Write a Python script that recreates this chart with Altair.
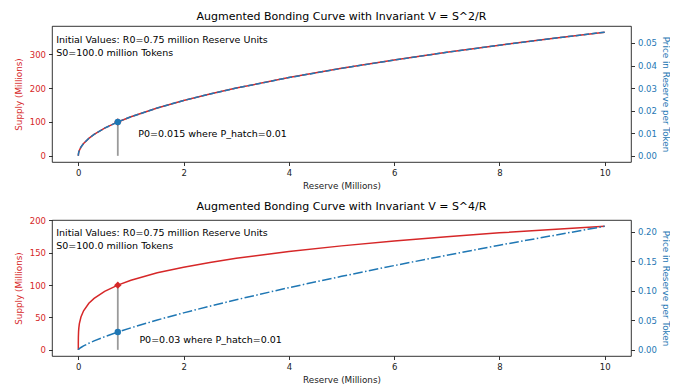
import altair as alt
import pandas as pd

RED = "#d62728"
BLUE = "#1f77b4"

# Reserve values (millions)
R = [0, 0.0001, 0.001, 0.005, 0.01, 0.02, 0.05, 0.1, 0.2, 0.3, 0.5, 0.75, 1, 1.5,
     2, 2.5, 3, 4, 5, 6, 7, 8, 9, 10]

# Top panel: V = S^2/R
S_top = [0, 1.2, 3.7, 8.2, 11.5, 16.3, 25.8, 36.5, 51.6, 63.2, 81.6, 100, 115.5, 141.4,
         163.3, 182.6, 200, 230.9, 258.2, 282.8, 305.5, 326.6, 346.4, 365.1]
P_top = [0, 0.00017, 0.00055, 0.00122, 0.00173, 0.00245, 0.00387, 0.00548, 0.00775,
         0.00949, 0.01225, 0.015, 0.01732, 0.02121, 0.02449, 0.02739, 0.03, 0.03464,
         0.03873, 0.04243, 0.04583, 0.04899, 0.05196, 0.05477]

# Bottom panel: V = S^4/R
S_bot = [0, 10.7, 19.1, 28.6, 34.0, 40.4, 50.8, 60.4, 71.9, 79.5, 90.4, 100, 107.5, 119.0,
         127.8, 135.1, 141.4, 152.0, 160.7, 168.2, 174.8, 180.8, 186.1, 191.1]
P_bot = [0, 0.00004, 0.00021, 0.0007, 0.00118, 0.00198, 0.00393, 0.00661, 0.01115,
         0.01507, 0.02216, 0.03, 0.03727, 0.05055, 0.06262, 0.07398, 0.08482, 0.10536,
         0.1245, 0.14277, 0.16023, 0.1773, 0.19336, 0.20937]

R0 = 0.75
S0 = 100.0
P0_top = 0.015
P0_bot = 0.03

x_ticks = [0, 2, 4, 6, 8, 10]
info_text = "Initial Values: R0=0.75 million Reserve Units\nS0=100.0 million Tokens"


def panel(S, P, title, ydom, ytick, pdom, ptick, p0, p0_text, info_y, p0_pos, dash):
    df = pd.DataFrame({"R": R, "S": S, "P": P})
    pt = pd.DataFrame({"R": [R0], "S": [S0], "P": [p0], "base": [0.0]})
    txt = pd.DataFrame({"R": [-0.42, p0_pos[0]], "S": [info_y, p0_pos[1]],
                        "label": [info_text, p0_text],
                        "kind": ["info", "p0"]})

    x = alt.X("R:Q", scale=alt.Scale(domain=[-0.5, 10.5], nice=False, zero=False),
              axis=alt.Axis(values=x_ticks, format="d", title="Reserve (Millions)"))
    ys = alt.Scale(domain=ydom, nice=False, zero=False)
    yaxis = alt.Axis(values=ytick, format="d", title="Supply (Millions)",
                     labelColor=RED, titleColor=RED, orient="left", titlePadding=6)
    ps = alt.Scale(domain=pdom, nice=False, zero=False)
    paxis = alt.Axis(values=ptick, format=".2f", title="Price in Reserve per Token",
                     labelColor=BLUE, titleColor=BLUE, orient="right", titlePadding=4)

    red_line = alt.Chart(df).mark_line(color=RED, strokeWidth=1.5).encode(
        x=x, y=alt.Y("S:Q", scale=ys, axis=yaxis))
    rule = alt.Chart(pt).mark_rule(color="#9a9a9a", strokeWidth=1.8).encode(
        x=x, y=alt.Y("base:Q", scale=ys, axis=yaxis), y2="S:Q")
    diamond = alt.Chart(pt).mark_point(shape="diamond", filled=True, color=RED,
                                       size=55, opacity=1).encode(
        x=x, y=alt.Y("S:Q", scale=ys, axis=yaxis))
    info = alt.Chart(txt[txt.kind == "info"]).mark_text(
        align="left", baseline="top", lineBreak="\n", fontSize=9.5, lineHeight=13,
        color="black").encode(x=x, y=alt.Y("S:Q", scale=ys, axis=yaxis), text="label:N")
    p0t = alt.Chart(txt[txt.kind == "p0"]).mark_text(
        align="left", baseline="middle", fontSize=9.5, color="black").encode(
        x=x, y=alt.Y("S:Q", scale=ys, axis=yaxis), text="label:N")
    left = alt.layer(red_line, rule, diamond, info, p0t)

    blue_line = alt.Chart(df).mark_line(color=BLUE, strokeWidth=1.5,
                                        strokeDash=dash).encode(
        x=x, y=alt.Y("P:Q", scale=ps, axis=paxis))
    circle = alt.Chart(pt).mark_point(shape="circle", filled=True, color=BLUE,
                                      size=42, opacity=1).encode(
        x=x, y=alt.Y("P:Q", scale=ps, axis=paxis))
    right = alt.layer(blue_line, circle)

    return alt.layer(left, right).resolve_scale(y="independent").properties(
        width=579, height=136, title=title)


top = panel(S_top, P_top, "Augmented Bonding Curve with Invariant V = S^2/R",
            [-18.25, 383.25], [0, 100, 200, 300],
            [-0.00274, 0.0575], [0, 0.01, 0.02, 0.03, 0.04, 0.05],
            P0_top, "P0=0.015 where P_hatch=0.01", 358, (1.14, 64), [5.5, 2.4])
bot = panel(S_bot, P_bot, "Augmented Bonding Curve with Invariant V = S^4/R",
            [-9.55, 200.7], [0, 50, 100, 150, 200],
            [-0.0105, 0.22], [0, 0.05, 0.10, 0.15, 0.20],
            P0_bot, "P0=0.03 where P_hatch=0.01", 188, (1.16, 15),
            [9.6, 2.4, 1.5, 2.4])

chart = alt.vconcat(top, bot, spacing=10).properties(
    padding={"left": 5, "top": 2, "right": 0, "bottom": 0}
).configure(font="DejaVu Sans").configure_view(
    stroke="black", strokeWidth=0.8
).configure_axis(
    grid=False, domain=False, tickColor="black", tickSize=3.5, tickWidth=0.8,
    labelPadding=3, labelFontSize=8.5, titleFontSize=8.8, titleFontWeight="normal",
    labelColor="#222", titleColor="#222", labelFont="DejaVu Sans", titleFont="DejaVu Sans"
).configure_title(
    fontSize=11, fontWeight="normal", color="black", offset=4, font="DejaVu Sans"
)

chart.save("out.html", embed_options={"renderer": "svg", "actions": False})
